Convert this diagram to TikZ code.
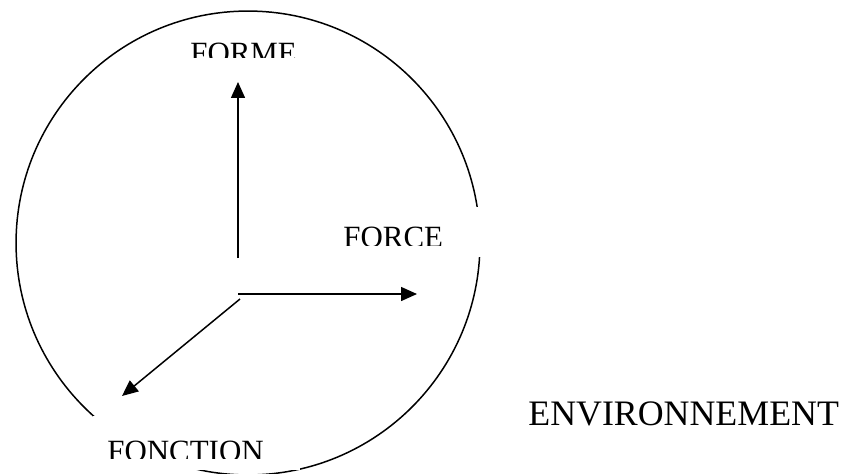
\documentclass[tikz,border=0pt]{standalone}
\usepackage{fontspec}
\setmainfont{Liberation Serif}
\usetikzlibrary{arrows.meta}

\tikzset{
  lbl/.style={inner sep=0pt,anchor=base west,font=\fontsize{17.6}{20}\selectfont},
  axe/.style={->,line width=0.85pt},
}

\begin{document}
\begin{tikzpicture}[x=0.02cm,y=-0.02cm,>={Triangle[length=0.32cm,width=0.28cm]}]
\clip (0,0) rectangle (851,473);
\draw[line width=0.85pt] (248,243) circle[radius=4.64cm];

\coordinate (O) at (238,294);
\coordinate (Oup) at (238,258);
\coordinate (Odiag) at (240,299);
\coordinate (forme tip) at (238,82);
\coordinate (force tip) at (417,294);
\coordinate (fonction tip) at (122,396);
\draw[axe] (Oup) -- (forme tip);
\draw[axe] (O) -- (force tip);
\draw[axe] (Odiag) -- (fonction tip);

% boites des etiquettes
\begin{scope}
\clip (180,30) rectangle (310,58);
\node[lbl] (forme) at (190,63.5) {FORME};
\end{scope}
\fill[white] (330,207) rectangle (482,257);
\begin{scope}
\clip (330,207) rectangle (482,245);
\node[lbl] (force) at (343,247.5) {FORCE};
\end{scope}
\fill[white] (93,416) rectangle (300,470);
\begin{scope}
\clip (93,416) rectangle (300,458);
\node[lbl] (fonction) at (107,461.5) {FONCTION};
\end{scope}

\node[lbl,font=\fontsize{20.4}{24}\selectfont] (env) at (528,425) {ENVIRONNEMENT};
\end{tikzpicture}
\end{document}
